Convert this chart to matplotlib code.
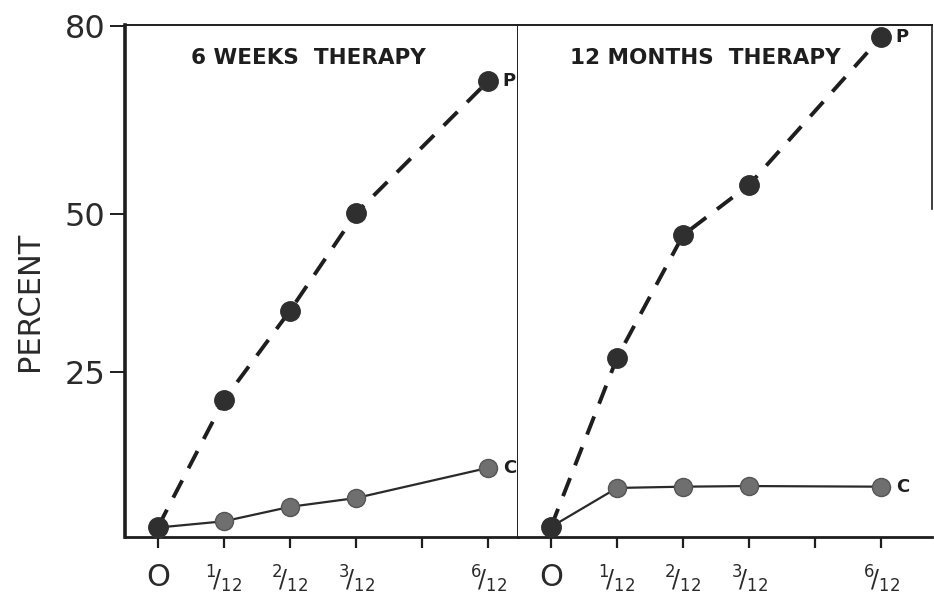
import matplotlib
matplotlib.use("Agg")
import matplotlib.pyplot as plt

# ---- data: percent by follow-up time
times = ["0", "1/12", "2/12", "3/12", "6/12"]
pos = [0, 1, 2, 3, 5]          # 4/12 only gets an unlabeled tick

weeks_p = [0.3, 20.5, 34.7, 50.2, 71.2]
weeks_c = [0.2, 1.2, 3.5, 4.9, 9.7]
months_p = [0.3, 27.2, 46.7, 54.7, 78.2]
months_c = [0.3, 6.5, 6.7, 6.8, 6.7]

panels = ["6 WEEKS  THERAPY", "12 MONTHS  THERAPY"]
yticks = [25, 50, 80]

tick_labels = ["O", r"$^{1}\!/_{12}$", r"$^{2}\!/_{12}$",
               r"$^{3}\!/_{12}$", r"$^{6}\!/_{12}$"]

fig = plt.figure(figsize=(9.34, 5.96), dpi=100)
gs = fig.add_gridspec(1, 2, width_ratios=[393, 414], wspace=0,
                      left=0.1338, right=0.9979, top=0.958, bottom=0.099)
ax1 = fig.add_subplot(gs[0])
ax2 = fig.add_subplot(gs[1], sharey=ax1)

ink = "#1e1e1e"

for ax, p, c, title, xr, tx in [(ax1, weeks_p, weeks_c, panels[0], 5.45, 0.466),
                                (ax2, months_p, months_c, panels[1], 5.77, 0.452)]:
    ax.plot(pos, c, "-", color="#2a2a2a", lw=1.6, zorder=2)
    ax.plot(pos, c, "o", ms=13, color="#6f6f6f", mec="#555555", zorder=3)
    ax.plot(pos, p, "--", color=ink, lw=2.8, dashes=(5, 3.5), zorder=2)
    ax.plot(pos, p, "o", ms=14, color="#2f2f2f", mec="#2f2f2f", zorder=4)
    ax.text(pos[-1] + 0.22, p[-1], "P", fontsize=13, fontweight="bold",
            color=ink, va="center", ha="left")
    ax.text(pos[-1] + 0.22, c[-1], "C", fontsize=13, fontweight="bold",
            color=ink, va="center", ha="left")
    ax.set_xlim(-0.5, xr)
    ax.set_xticks([0, 1, 2, 3, 4, 5])
    ax.set_xticklabels(tick_labels[:4] + [""] + tick_labels[4:], fontsize=17,
                       color="#2a2a2a")
    ax.get_xticklabels()[0].set_fontsize(22)   # the big "O"
    ax.tick_params(axis="x", direction="out", length=8, width=1.6, pad=11,
                   colors=ink, labelcolor="#2a2a2a")
    ax.text(tx, 0.935, title, transform=ax.transAxes, ha="center", va="center",
            fontsize=15.5, fontweight="bold", color=ink)
    for s in ax.spines.values():
        s.set_color(ink)

ax1.set_ylim(-1.3, 80.1)
ax1.set_yticks(yticks)
ax1.set_yticklabels([str(v) for v in yticks], fontsize=23, color="#2a2a2a")
ax1.tick_params(axis="y", direction="out", length=11, width=1.4, pad=3, colors=ink,
                labelcolor="#2a2a2a")
ax1.set_ylabel("PERCENT", fontsize=22, color="#2a2a2a")
ax1.yaxis.set_label_coords(-0.205, 0.46)

ax1.spines["left"].set_linewidth(2.6)
ax1.spines["bottom"].set_linewidth(2.0)
ax1.spines["top"].set_linewidth(1.4)
ax1.spines["right"].set_linewidth(1.4)
ax2.spines["left"].set_visible(False)
ax2.spines["bottom"].set_linewidth(2.0)
ax2.spines["top"].set_linewidth(1.4)
# outer right border only runs down the upper part of the frame
ax2.spines["right"].set_visible(False)
ax2.plot([1, 1], [0.64, 1], transform=ax2.transAxes, color=ink, lw=1.2,
         clip_on=False)
ax2.tick_params(axis="y", left=False, labelleft=False)

fig.savefig("out.png", dpi=100, facecolor="white")
